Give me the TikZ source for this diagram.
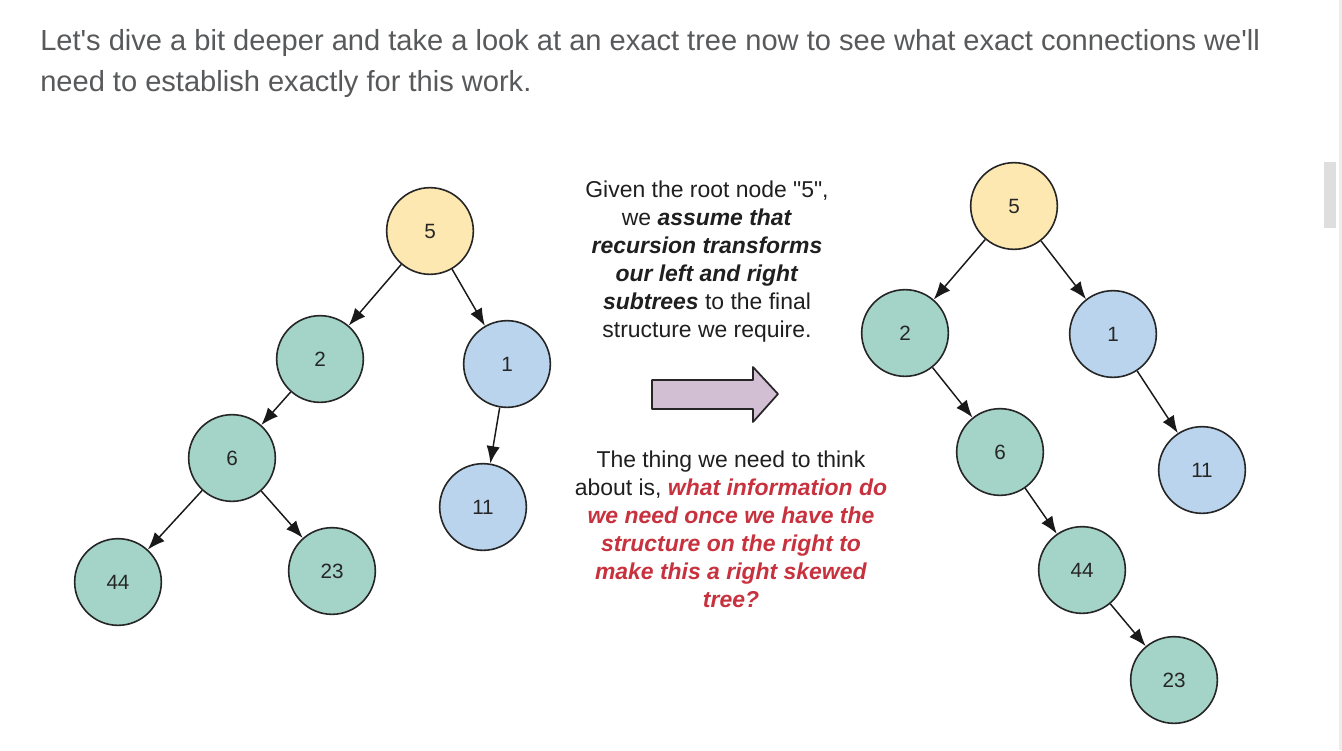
\documentclass[tikz,border=0pt]{standalone}
\usepackage{fontspec}
\setmainfont{Liberation Sans}[Ligatures=TeXOff]
\usetikzlibrary{arrows.meta}
\definecolor{ylw}{HTML}{FCE8B0}
\definecolor{grn}{HTML}{A4D4C8}
\definecolor{blu}{HTML}{B9D4EC}
\definecolor{prp}{HTML}{D3BFD4}
\definecolor{redt}{HTML}{C8323E}
\definecolor{topgray}{HTML}{58595B}
\tikzset{
  tnode/.style={circle,draw=black!85,line width=1.2pt,minimum size=65pt,inner sep=0pt,
    font=\fontsize{15.5}{18}\selectfont,text=black!85},
  yn/.style={tnode,fill=ylw},
  gn/.style={tnode,fill=grn},
  bn/.style={tnode,fill=blu},
  edge/.style={line width=1.1pt,draw=black!90,-{Latex[length=13pt,width=10pt]}},
  midtext/.style={align=center,font=\fontsize{17.2}{21}\selectfont,text=black!88,inner sep=0pt},
  toptext/.style={anchor=west,inner sep=0pt,text=topgray,font=\fontsize{21.8}{30}\selectfont},
}
\begin{document}
\begin{tikzpicture}[x=0.75pt,y=-0.75pt]
\useasboundingbox (0,0) rectangle (1342,750);
\fill[white] (0,0) rectangle (1342,750);
% scrollbar
\fill[black!7] (1339,0) rectangle (1342,750);
\fill[black!13] (1324,162) rectangle (1336,228);
% top text
\node[toptext] (t1) at (40,43) {Let's dive a bit deeper and take a look at an exact tree now to see what exact connections we'll};
\node[toptext] (t2) at (40,84) {need to establish exactly for this work.};
% left tree
\node[yn] (a5) at (430,231) {5};
\node[gn] (a2) at (320,359) {2};
\node[bn] (a1) at (507,364) {1};
\node[gn] (a6) at (232,458) {6};
\node[bn] (a11) at (483,507) {11};
\node[gn] (a44) at (118,582) {44};
\node[gn] (a23) at (332,571) {23};
\draw[edge] (a5) -- (a2);
\draw[edge] (a5) -- (a1);
\draw[edge] (a2) -- (a6);
\draw[edge] (a1) -- (a11);
\draw[edge] (a6) -- (a44);
\draw[edge] (a6) -- (a23);
% right tree
\node[yn] (b5) at (1014,206) {5};
\node[gn] (b2) at (905,333) {2};
\node[bn] (b1) at (1113,334) {1};
\node[gn] (b6) at (1000,452) {6};
\node[bn] (b11) at (1202,470) {11};
\node[gn] (b44) at (1082,570) {44};
\node[gn] (b23) at (1174,680) {23};
\draw[edge] (b5) -- (b2);
\draw[edge] (b5) -- (b1);
\draw[edge] (b2) -- (b6);
\draw[edge] (b1) -- (b11);
\draw[edge] (b6) -- (b44);
\draw[edge] (b44) -- (b23);
% middle texts
\node[midtext] (m1) at (707,262) {Given the root node "5",\\
we \textbf{\textit{assume that}}\\
\textbf{\textit{recursion transforms}}\\
\textbf{\textit{our left and right}}\\
\textbf{\textit{subtrees}} to the final\\
structure we require.};
\node[midtext] (m2) at (731,529) {The thing we need to think\\
about is, \textcolor{redt}{\textbf{\textit{what information do}}}\\
\textcolor{redt}{\textbf{\textit{we need once we have the}}}\\
\textcolor{redt}{\textbf{\textit{structure on the right to}}}\\
\textcolor{redt}{\textbf{\textit{make this a right skewed}}}\\
\textcolor{redt}{\textbf{\textit{tree?}}}};
% block arrow
\draw[fill=prp,draw=black!85,line width=1.3pt,line join=round]
  (652,380) -- (753,380) -- (753,367) -- (778,394) -- (753,422) -- (753,409) -- (652,409) -- cycle;
\end{tikzpicture}
\end{document}
